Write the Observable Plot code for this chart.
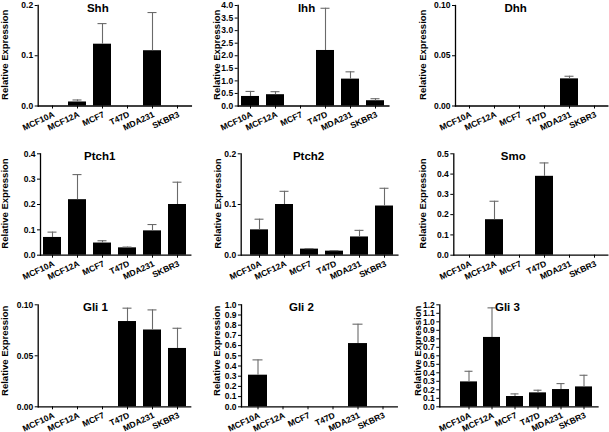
<!DOCTYPE html>
<html><head><meta charset="utf-8">
<script src="https://cdn.jsdelivr.net/npm/d3@7"></script>
<script src="https://cdn.jsdelivr.net/npm/@observablehq/plot@0.6"></script>
<style>
body{margin:0;background:#fff;}
#wrap{position:relative;width:609px;height:432px;overflow:hidden;background:#fff;}
#wrap > svg{position:absolute;}
</style></head><body><div id="wrap"></div>
<script>
// ---- data ----
const cellLines = ["MCF10A","MCF12A","MCF7","T47D","MDA231","SKBR3"];
const genes = ["Shh","Ihh","Dhh","Ptch1","Ptch2","Smo","Gli 1","Gli 2","Gli 3"];
const yLabel = "Relative Expression";

const shhMean   = [0, 0.008, 0.123, 0, 0.110, 0];
const shhSem    = [0, 0.004, 0.041, 0, 0.076, 0];
const ihhMean   = [0.38, 0.45, 0, 2.21, 1.07, 0.21];
const ihhSem    = [0.20, 0.12, 0, 1.68, 0.29, 0.08];
const dhhMean   = [0, 0, 0, 0, 0.027, 0];
const dhhSem    = [0, 0, 0, 0, 0.0026, 0];
const ptch1Mean = [0.070, 0.219, 0.048, 0.029, 0.096, 0.200];
const ptch1Sem  = [0.021, 0.099, 0.009, 0.003, 0.025, 0.088];
const ptch2Mean = [0.050, 0.100, 0.012, 0.008, 0.036, 0.097];
const ptch2Sem  = [0.021, 0.026, 0.001, 0.001, 0.013, 0.035];
const smoMean   = [0, 0.175, 0, 0.389, 0, 0];
const smoSem    = [0, 0.091, 0, 0.066, 0, 0];
const gli1Mean  = [0, 0, 0, 0.0836, 0.0753, 0.0572];
const gli1Sem   = [0, 0, 0, 0.0131, 0.0197, 0.0198];
const gli2Mean  = [0.31, 0, 0, 0, 0.62, 0];
const gli2Sem   = [0.15, 0, 0, 0, 0.19, 0];
const gli3Mean  = [0.293, 0.816, 0.121, 0.164, 0.203, 0.234];
const gli3Sem   = [0.125, 0.348, 0.031, 0.031, 0.070, 0.137];

// y-axis maxima, tick steps and tick label formats
const yMax   = [0.2, 4.0, 0.10, 0.4, 0.2, 0.5, 0.10, 1.0, 1.2];
const yStep  = [0.1, 0.5, 0.05, 0.1, 0.1, 0.1, 0.05, 0.1, 0.1];
const yFmt   = [".1f", ".1f", ".2f", ".1f", ".1f", ".1f", ".2f", ".1f", ".1f"];

const means = [shhMean, ihhMean, dhhMean, ptch1Mean, ptch2Mean, smoMean, gli1Mean, gli2Mean, gli3Mean];
const sems  = [shhSem, ihhSem, dhhSem, ptch1Sem, ptch2Sem, smoSem, gli1Sem, gli2Sem, gli3Sem];

// ---- layout ----
const colLeft = [0, 200, 400], colW = [200, 200, 209];
const rowTop = [0, 140, 285], rowH = [140, 145, 147];
const rowMT = [5, 13.3, 19.3];
const rowMB = [34.5, 30.3, 25.7];
// per panel: axis x (marginLeft), band start, band end, title dx, y-label offset
const lay = [
  {ml: 37.7, xs: 38.5, xe: 190.9, tdx: -17, lo: 33.5, pad: 0.30},
  {ml: 37.7, xs: 37.2, xe: 188.4, tdx: -7,  lo: 21,   pad: 0.28},
  {ml: 55,   xs: 56.1, xe: 207.3, tdx: -16, lo: 32.5, pad: 0.28},
  {ml: 40,   xs: 38.7, xe: 190.3, tdx: -16, lo: 36,   pad: 0.29},
  {ml: 40.7, xs: 44.2, xe: 197.4, tdx: -11, lo: 23.5, pad: 0.30},
  {ml: 53.3, xs: 54.9, xe: 207.3, tdx: -17.5, lo: 30.8, pad: 0.29},
  {ml: 37.7, xs: 39,   xe: 190.2, tdx: -19, lo: 33.5, pad: 0.30},
  {ml: 41,   xs: 43.2, xe: 196.8, tdx: -18, lo: 25,   pad: 0.26},
  {ml: 39.3, xs: 54.7, xe: 197.5, tdx: -11.5, lo: 21.5, pad: 0.26}
];

const wrap = document.getElementById("wrap");
genes.forEach((gene, i) => {
  const r = Math.floor(i / 3), c = i % 3;
  const L = lay[i];
  const W = colW[c], H = rowH[r];
  const rows = cellLines.map((line, j) => ({line, mean: means[i][j], sem: sems[i][j]}));
  const withErr = rows.filter(d => d.mean > 0);
  const ticks = d3.range(0, yMax[i] + yStep[i] / 2, yStep[i]);
  const svg = Plot.plot({
    width: W, height: H,
    marginLeft: L.ml, marginRight: W - L.xe, marginTop: rowMT[r], marginBottom: rowMB[r],
    style: {fontFamily: "'Liberation Sans', Arial, sans-serif", fontWeight: "bold", fontSize: "8px", color: "#000", background: "transparent", overflow: "visible"},
    x: {domain: cellLines, range: [L.xs, L.xe], paddingInner: L.pad, paddingOuter: L.pad / 2},
    y: {domain: [0, yMax[i]]},
    marks: [
      Plot.barY(rows, {x: "line", y: "mean", fill: "#000"}),
      Plot.ruleX(withErr, {x: "line", y1: "mean", y2: d => d.mean + d.sem, stroke: "#6a6a6a", strokeWidth: 1.1}),
      Plot.tickY(withErr, {x: "line", y: d => d.mean + d.sem, stroke: "#6a6a6a", strokeWidth: 1.1, insetLeft: 4.5, insetRight: 4.5}),
      Plot.frame({anchor: "left", strokeWidth: 1.3}),
      Plot.frame({anchor: "bottom", strokeWidth: 1.3}),
      Plot.axisY({ticks, tickFormat: d3.format(yFmt[i]), label: null, tickSize: 3, tickPadding: 2, fontSize: 8.5}),
      Plot.axisX({label: null, tickRotate: -25, textAnchor: "end", lineAnchor: "top", tickSize: 3, tickPadding: 2, fontSize: 8.5}),
      Plot.text([gene], {frameAnchor: "top", lineAnchor: "bottom", dx: L.tdx, dy: 6, fontSize: 11.5, fontWeight: "bold"}),
      Plot.text([yLabel], {frameAnchor: "left", textAnchor: "middle", lineAnchor: "middle", rotate: -90, dx: -L.lo, dy: r === 2 ? -5 : -1, fontSize: 9.5, fontWeight: "bold"})
    ]
  });
  svg.style.left = colLeft[c] + "px";
  svg.style.top = rowTop[r] + "px";
  wrap.appendChild(svg);
});
</script>
</body></html>
